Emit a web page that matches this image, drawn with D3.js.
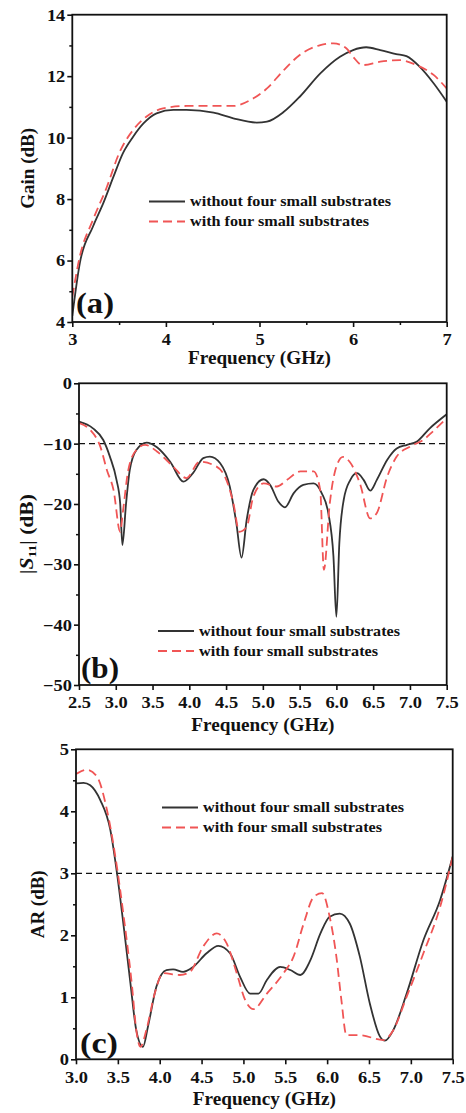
<!DOCTYPE html>
<html><head><meta charset="utf-8">
<script src="https://cdn.jsdelivr.net/npm/d3@7/dist/d3.min.js"></script>
<style>
body{margin:0;background:#fff;}
svg{display:block;}
text{font-family:"Liberation Serif","Times New Roman",serif;font-weight:bold;fill:#111;}
</style></head>
<body>
<svg id="c" width="466" height="1113"></svg>
<script>
// ---------- Panel (a): Gain ----------
const gainXTicks = [3, 4, 5, 6, 7];
const gainYTicks = [4, 6, 8, 10, 12, 14];
const gainWithoutF = [3.0, 3.08, 3.22, 3.33, 3.44, 3.54, 3.65, 3.76, 3.9, 4.08, 4.22, 4.51, 4.72, 4.97, 5.08, 5.26, 5.43, 5.65, 5.86, 6.0, 6.14, 6.29, 6.46, 6.57, 6.71, 6.86, 7.0];
const gainWithout  = [4.2, 5.91, 7.1, 7.86, 8.73, 9.49, 10.03, 10.46, 10.79, 10.9, 10.9, 10.81, 10.63, 10.49, 10.52, 10.84, 11.33, 12.09, 12.63, 12.85, 12.94, 12.85, 12.72, 12.65, 12.31, 11.77, 11.17];
const gainWithF = [3.0, 3.08, 3.22, 3.37, 3.5, 3.65, 3.79, 3.97, 4.22, 4.51, 4.72, 4.9, 5.08, 5.26, 5.43, 5.65, 5.79, 5.93, 6.0, 6.1, 6.29, 6.5, 6.68, 6.86, 7.0];
const gainWith  = [4.82, 6.13, 7.32, 8.4, 9.49, 10.25, 10.68, 10.95, 11.03, 11.03, 11.03, 11.22, 11.6, 12.2, 12.69, 13.01, 13.07, 12.9, 12.63, 12.36, 12.47, 12.52, 12.36, 12.04, 11.6];

// ---------- Panel (b): |S11| ----------
const s11XTicks = [2.5, 3.0, 3.5, 4.0, 4.5, 5.0, 5.5, 6.0, 6.5, 7.0, 7.5];
const s11YTicks = [0, -10, -20, -30, -40, -50];
const s11WithoutF = [2.5, 2.69, 2.83, 2.92, 3.01, 3.06, 3.09, 3.14, 3.19, 3.28, 3.42, 3.56, 3.74, 3.92, 4.05, 4.19, 4.28, 4.42, 4.55, 4.64, 4.71, 4.78, 4.87, 5.01, 5.1, 5.21, 5.3, 5.42, 5.55, 5.69, 5.8, 5.89, 5.96, 6.0, 6.04, 6.1, 6.19, 6.28, 6.37, 6.46, 6.55, 6.69, 6.82, 6.96, 7.09, 7.27, 7.5];
const s11Without  = [-6.35, -7.46, -9.4, -12.15, -16.0, -19.9, -26.8, -19.9, -14.4, -11.05, -9.83, -10.6, -13.0, -16.3, -14.9, -12.4, -12.15, -13.26, -17.1, -23.2, -28.9, -22.65, -17.7, -15.9, -16.85, -19.6, -20.55, -18.2, -16.85, -16.6, -18.2, -21.5, -28.7, -38.7, -26.5, -19.3, -16.0, -14.9, -16.0, -17.8, -16.0, -12.7, -10.8, -10.2, -9.7, -7.46, -5.14];
const s11WithF = [2.5, 2.65, 2.79, 2.88, 2.97, 3.06, 3.1, 3.17, 3.28, 3.4, 3.56, 3.78, 3.96, 4.14, 4.32, 4.46, 4.6, 4.68, 4.78, 4.87, 5.01, 5.19, 5.33, 5.51, 5.69, 5.78, 5.83, 5.91, 6.0, 6.09, 6.18, 6.32, 6.46, 6.55, 6.69, 6.82, 7.0, 7.18, 7.31, 7.5];
const s11With  = [-6.6, -7.7, -10.5, -14.4, -17.7, -24.6, -21.0, -14.4, -11.05, -10.2, -11.3, -13.8, -15.7, -13.0, -13.5, -14.9, -19.9, -24.6, -23.8, -18.8, -16.6, -17.1, -16.0, -14.6, -14.6, -17.7, -30.9, -19.9, -13.8, -12.2, -13.0, -16.6, -22.4, -21.5, -15.5, -12.15, -10.5, -9.4, -8.0, -5.8];

// ---------- Panel (c): AR ----------
const arXTicks = [3.0, 3.5, 4.0, 4.5, 5.0, 5.5, 6.0, 6.5, 7.0, 7.5];
const arYTicks = [0, 1, 2, 3, 4, 5];
const arWithoutF = [3.0, 3.09, 3.17, 3.29, 3.41, 3.49, 3.57, 3.65, 3.72, 3.8, 3.86, 3.96, 4.08, 4.16, 4.28, 4.4, 4.56, 4.7, 4.84, 4.96, 5.08, 5.18, 5.28, 5.44, 5.56, 5.68, 5.8, 5.92, 6.03, 6.15, 6.27, 6.39, 6.51, 6.63, 6.69, 6.79, 6.95, 7.15, 7.35, 7.5];
const arWithout  = [4.45, 4.46, 4.42, 4.18, 3.7, 3.0, 2.14, 1.23, 0.47, 0.2, 0.53, 1.17, 1.44, 1.45, 1.41, 1.49, 1.71, 1.83, 1.71, 1.33, 1.06, 1.06, 1.28, 1.49, 1.44, 1.36, 1.6, 2.03, 2.3, 2.35, 2.19, 1.66, 0.9, 0.37, 0.3, 0.47, 1.06, 1.92, 2.57, 3.27];
const arWithF = [3.0, 3.13, 3.25, 3.37, 3.47, 3.57, 3.67, 3.72, 3.77, 3.84, 3.94, 4.04, 4.24, 4.36, 4.52, 4.68, 4.8, 4.92, 5.02, 5.12, 5.28, 5.48, 5.6, 5.72, 5.84, 5.94, 6.03, 6.11, 6.17, 6.23, 6.39, 6.67, 6.79, 6.95, 7.15, 7.35, 7.5];
const arWith  = [4.6, 4.67, 4.56, 4.02, 3.27, 2.3, 1.17, 0.47, 0.2, 0.47, 1.06, 1.39, 1.36, 1.41, 1.82, 2.03, 1.87, 1.39, 0.96, 0.81, 1.06, 1.39, 1.66, 2.19, 2.62, 2.68, 2.3, 1.66, 0.96, 0.39, 0.39, 0.31, 0.47, 1.01, 1.71, 2.46, 3.27];

const legendLabels = ["without four small substrates", "with four small substrates"];

const BLACK = "#333333", RED = "#f05555";
const svg = d3.select("#c");

function zip(xs, ys){ return xs.map((x,i)=>[x, ys[i]]); }
function stretch(sel, f){
  sel.each(function(){
    const w = this.getComputedTextLength();
    d3.select(this).attr("textLength", w*f).attr("lengthAdjust","spacingAndGlyphs");
  });
}
function fitLen(sel, len){ sel.attr("textLength", len).attr("lengthAdjust","spacingAndGlyphs"); }

function panel(cfg){
  const {id, L, R, T, B, xDom, yDom, xTicks, yTicks, xFmt, yFmt, minorX, minorY,
         series, refY, yLabel, yLabelLen, tickBase, titleBase, yLabelX, legX, legY, tag, tagX, tagY} = cfg;
  const g = svg.append("g");
  const x = d3.scaleLinear().domain(xDom).range([L, R]);
  const y = d3.scaleLinear().domain(yDom).range([B, T]);

  g.append("clipPath").attr("id", "clip"+id).append("rect")
    .attr("x", L).attr("y", T).attr("width", R-L).attr("height", B-T);

  // minor ticks
  g.append("g").attr("transform", `translate(0,${B})`)
    .call(d3.axisBottom(x).tickValues(minorX).tickSize(3).tickFormat(""))
    .call(a=>a.select(".domain").remove())
    .call(a=>a.selectAll("line").attr("stroke","#111").attr("stroke-width",1.5));
  g.append("g").attr("transform", `translate(${L},0)`)
    .call(d3.axisLeft(y).tickValues(minorY).tickSize(3).tickFormat(""))
    .call(a=>a.select(".domain").remove())
    .call(a=>a.selectAll("line").attr("stroke","#111").attr("stroke-width",1.5));

  // major ticks
  const xa = g.append("g").attr("transform", `translate(0,${B})`)
    .call(d3.axisBottom(x).tickValues(xTicks).tickSize(5).tickPadding(0).tickFormat(xFmt));
  xa.select(".domain").remove();
  xa.selectAll("line").attr("stroke","#111").attr("stroke-width",1.6);
  xa.selectAll("text").attr("dy", null).attr("y", tickBase).style("font-size","16px").attr("fill","#111")
    .call(stretch, 1.15);

  const ya = g.append("g").attr("transform", `translate(${L},0)`)
    .call(d3.axisLeft(y).tickValues(yTicks).tickSize(5).tickPadding(2).tickFormat(yFmt));
  ya.select(".domain").remove();
  ya.selectAll("line").attr("stroke","#111").attr("stroke-width",1.6);
  ya.selectAll("text").attr("dy","0.34em").style("font-size","16px").attr("fill","#111")
    .call(stretch, 1.15);

  // reference dashed line
  if (refY !== null){
    g.append("line").attr("x1", L).attr("x2", R).attr("y1", y(refY)).attr("y2", y(refY))
      .attr("stroke","#111").attr("stroke-width",1.3).attr("stroke-dasharray","6,4");
  }

  const line = d3.line().x(d=>x(d[0])).y(d=>y(d[1])).curve(d3.curveMonotoneX);
  const pg = g.append("g").attr("clip-path", `url(#clip${id})`);
  series.forEach(s=>{
    pg.append("path").attr("d", line(s.data)).attr("fill","none")
      .attr("stroke", s.color).attr("stroke-width", 1.8)
      .attr("stroke-dasharray", s.dash || null).attr("stroke-linejoin","round");
  });

  // frame
  g.append("rect").attr("x", L).attr("y", T).attr("width", R-L).attr("height", B-T)
    .attr("fill","none").attr("stroke","#111").attr("stroke-width",1.8);

  // axis titles
  g.append("text").attr("x", (L+R)/2).attr("y", titleBase).attr("text-anchor","middle")
    .style("font-size","18px").text("Frequency (GHz)").call(fitLen, 143);
  const yl = g.append("text").attr("transform", `translate(${yLabelX},${(T+B)/2}) rotate(-90)`)
    .attr("text-anchor","middle").attr("dy","0.35em").style("font-size","18px");
  yLabel(yl);
  fitLen(yl, yLabelLen);

  // legend
  const legLens = [201, 179];
  legendLabels.forEach((lab,i)=>{
    const ly = legY + i*20;
    g.append("line").attr("x1", legX).attr("x2", legX+36).attr("y1", ly).attr("y2", ly)
      .attr("stroke", series[i].color).attr("stroke-width", 1.8)
      .attr("stroke-dasharray", series[i].dash || null);
    g.append("text").attr("x", legX+41).attr("y", ly).attr("dy","0.33em")
      .style("font-size","14px").text(lab).call(fitLen, legLens[i]);
  });

  // panel tag
  g.append("text").attr("x", tagX).attr("y", tagY).style("font-size","30px").text(tag).call(fitLen, 38);
}

const f0 = d3.format("d"), f1 = d3.format(".1f");
const range = (a,b,s)=>d3.range(a, b+s/2, s);

panel({id:"a", L:72.3, R:446.7, T:14.7, B:322, xDom:[3,7], yDom:[4,14],
  xTicks:gainXTicks, yTicks:gainYTicks, xFmt:f0, yFmt:f0,
  minorX: range(3.5, 6.5, 1), minorY: range(5, 13, 2),
  series:[{data:zip(gainWithoutF, gainWithout), color:BLACK},
          {data:zip(gainWithF, gainWith), color:RED, dash:"9,5"}],
  refY:null, yLabel:t=>t.text("Gain (dB)"), yLabelLen:81, tickBase:23, titleBase:364, yLabelX:28,
  legX:149, legY:201.5, tag:"(a)", tagX:76, tagY:313});

panel({id:"b", L:79, R:446.7, T:383.3, B:685, xDom:[2.5,7.5], yDom:[-50,0],
  xTicks:s11XTicks, yTicks:s11YTicks, xFmt:f1, yFmt:f0,
  minorX: [], minorY: range(-45, -5, 10),
  series:[{data:zip(s11WithoutF, s11Without), color:BLACK},
          {data:zip(s11WithF, s11With), color:RED, dash:"9,5"}],
  refY:-10, yLabel:t=>{ t.append("tspan").text("|");
    t.append("tspan").style("font-style","italic").text("S");
    t.append("tspan").attr("baseline-shift","-25%").style("font-size","11px").text("11");
    t.append("tspan").attr("baseline-shift","0").text("| (dB)"); },
  yLabelLen:80, tickBase:23, titleBase:731, yLabelX:27,
  legX:158, legY:631, tag:"(b)", tagX:81, tagY:678});

panel({id:"c", L:76, R:452.7, T:749.3, B:1059.3, xDom:[3,7.5], yDom:[0,5],
  xTicks:arXTicks, yTicks:arYTicks, xFmt:f1, yFmt:f0,
  minorX: [], minorY: range(0.5, 4.5, 1),
  series:[{data:zip(arWithoutF, arWithout), color:BLACK},
          {data:zip(arWithF, arWith), color:RED, dash:"9,5"}],
  refY:3, yLabel:t=>t.text("AR (dB)"), yLabelLen:68, tickBase:24, titleBase:1105, yLabelX:38,
  legX:162, legY:807.5, tag:"(c)", tagX:80, tagY:1053});
</script>
</body></html>
